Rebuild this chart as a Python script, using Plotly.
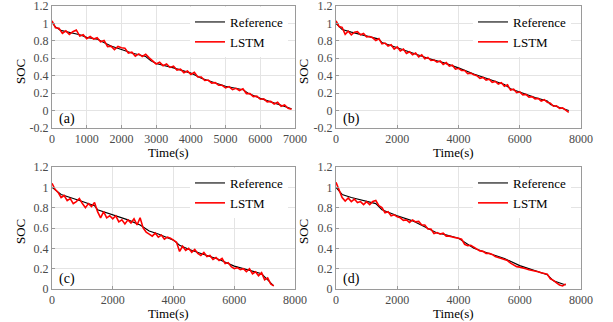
import plotly.graph_objects as go

# ---------------- data ----------------
STEP = 100  # sampling interval of the LSTM estimates (s)

# (a)
ref_a_t = [0, 100, 250, 500, 800, 1000, 1300, 1450, 1700, 2000, 2300, 2700, 2850, 3000, 3500,
           4000, 4150, 4300, 4600, 5000, 5500, 5650, 6000, 6500, 6900]
ref_a_v = [1.01, 0.96, 0.92, 0.90, 0.87, 0.84, 0.82, 0.79, 0.74, 0.70, 0.66, 0.62, 0.57, 0.54, 0.49,
           0.43, 0.40, 0.37, 0.33, 0.28, 0.24, 0.20, 0.14, 0.075, 0.02]
lstm_a = [1.03, 0.95, 0.945, 0.885, 0.915, 0.875, 0.905, 0.925, 0.855, 0.87, 0.825, 0.85, 0.82, 0.835,
          0.79, 0.805, 0.735, 0.74, 0.70, 0.735, 0.72, 0.715, 0.66, 0.67, 0.625, 0.65, 0.62,
          0.645, 0.605, 0.575, 0.535, 0.555, 0.515, 0.535, 0.495, 0.51, 0.465, 0.475, 0.435, 0.455, 0.415,
          0.44, 0.385, 0.385, 0.345, 0.35, 0.315, 0.32, 0.29, 0.29, 0.26, 0.275, 0.24, 0.255,
          0.23, 0.25, 0.195, 0.195, 0.16, 0.165, 0.13, 0.135, 0.10, 0.105, 0.075, 0.095, 0.05,
          0.065, 0.025, 0.015]

# (b)
ref_b_t = [0, 200, 500, 1000, 1400, 1500, 2000, 2500, 3000, 3500, 4000, 4500, 5000, 5500, 5700,
           6000, 6500, 6900, 7000, 7600]
ref_b_v = [1.0, 0.93, 0.90, 0.86, 0.82, 0.78, 0.72, 0.66, 0.60, 0.55, 0.49, 0.42, 0.36, 0.30, 0.25,
           0.21, 0.15, 0.11, 0.07, 0.0]
lstm_b = [1.03, 0.965, 0.955, 0.875, 0.91, 0.87, 0.90, 0.905, 0.87, 0.885, 0.845, 0.85, 0.835, 0.805,
          0.825, 0.765, 0.775, 0.74, 0.755, 0.705, 0.73, 0.685, 0.705, 0.655, 0.675, 0.64, 0.66, 0.615,
          0.64, 0.595, 0.61, 0.575, 0.58, 0.555, 0.57, 0.53, 0.55, 0.51, 0.52, 0.475, 0.485,
          0.46, 0.46, 0.425, 0.43, 0.41, 0.40, 0.37, 0.38, 0.35, 0.36, 0.325, 0.335, 0.305,
          0.32, 0.28, 0.295, 0.235, 0.245, 0.205, 0.215, 0.18, 0.185, 0.155, 0.16, 0.135, 0.14, 0.11,
          0.125, 0.095, 0.085, 0.05, 0.055, 0.025, 0.03, 0.0, -0.02]

# (c)
ref_c_t = [0, 300, 1000, 1400, 1500, 2000, 2500, 2900, 3200, 3500, 4000, 4200, 4500, 5000, 5500,
           6000, 6500, 6900, 7100, 7300]
ref_c_v = [1.0, 0.93, 0.86, 0.82, 0.78, 0.73, 0.68, 0.63, 0.57, 0.54, 0.48, 0.43, 0.39, 0.34, 0.29,
           0.225, 0.18, 0.15, 0.09, 0.03]
lstm_c = [1.04, 0.98, 0.95, 0.90, 0.92, 0.87, 0.89, 0.84, 0.86, 0.89, 0.84, 0.80, 0.84, 0.81, 0.85,
          0.76, 0.70, 0.76, 0.70, 0.72, 0.69, 0.72, 0.66, 0.68, 0.64, 0.68, 0.65, 0.69, 0.63, 0.70,
          0.60, 0.56, 0.54, 0.52, 0.55, 0.51, 0.53, 0.49, 0.51, 0.50, 0.48, 0.46, 0.37, 0.42, 0.38,
          0.40, 0.36, 0.39, 0.35, 0.33, 0.36, 0.32, 0.33, 0.29, 0.31, 0.28, 0.30, 0.25, 0.26, 0.22,
          0.20, 0.21, 0.19, 0.20, 0.17, 0.20, 0.15, 0.17, 0.13, 0.16, 0.09, 0.11, 0.05, 0.03]

# (d)
ref_d_t = [0, 200, 500, 1000, 1300, 1500, 2000, 2500, 3000, 3300, 3500, 4000, 4200, 4500, 5000,
           5500, 6000, 6500, 6900, 7100, 7500]
ref_d_v = [1.0, 0.93, 0.90, 0.86, 0.84, 0.78, 0.72, 0.67, 0.60, 0.55, 0.54, 0.50, 0.46, 0.40, 0.35,
           0.30, 0.23, 0.18, 0.14, 0.08, 0.04]
lstm_d = [1.05, 0.97, 0.90, 0.865, 0.895, 0.86, 0.885, 0.85, 0.86, 0.83, 0.86, 0.83, 0.86, 0.87,
          0.82, 0.80, 0.75, 0.76, 0.72, 0.73, 0.71, 0.70, 0.675, 0.68, 0.655, 0.68, 0.66,
          0.665, 0.63, 0.63, 0.59, 0.59, 0.545, 0.555, 0.54, 0.55, 0.52, 0.52, 0.51, 0.505,
          0.50, 0.49, 0.44, 0.425, 0.43, 0.41, 0.39, 0.375, 0.37, 0.35, 0.35, 0.34, 0.32,
          0.31, 0.30, 0.29, 0.28, 0.255, 0.24, 0.22, 0.215, 0.21, 0.20, 0.19, 0.185, 0.175,
          0.17, 0.16, 0.155, 0.145, 0.10, 0.085, 0.06, 0.04, 0.03, 0.05]

panels = [
    ("(a)", ref_a_t, ref_a_v, lstm_a, 7000, 1000, -0.2),
    ("(b)", ref_b_t, ref_b_v, lstm_b, 8000, 2000, -0.2),
    ("(c)", ref_c_t, ref_c_v, lstm_c, 8000, 2000, 0.0),
    ("(d)", ref_d_t, ref_d_v, lstm_d, 8000, 2000, 0.0),
]
y_ticks_full = [-0.2, 0, 0.2, 0.4, 0.6, 0.8, 1.0, 1.2]
y_text_full = ["-0.2", "0", "0.2", "0.4", "0.6", "0.8", "1", "1.2"]

# ---------------- layout geometry ----------------
W, H = 613, 322
def px_x(p): return p / W
def px_y(p): return 1 - p / H

xdom = [[px_x(52), px_x(295)], [px_x(336), px_x(581)]]
ydom = [[px_y(128), px_y(6)], [px_y(289), px_y(167)]]

FONT = "Liberation Serif"
TICKCOL = "#4a4a4a"
LINECOL = "#9a9a9a"
GRIDCOL = "#e4e4e4"

fig = go.Figure()
layout = dict(width=W, height=H, margin=dict(l=0, r=0, t=0, b=0, autoexpand=False),
              paper_bgcolor="white", plot_bgcolor="white",
              font=dict(family=FONT, size=11, color="black"), annotations=[])

def note(text, x, y, size, angle=0):
    return dict(text=text, xref="paper", yref="paper", x=px_x(x), y=px_y(y),
                xanchor="center", yanchor="middle", textangle=angle, showarrow=False,
                font=dict(family=FONT, size=size, color="black"))

for i, (lab, rt, rv, lv, xmax, xstep, ymin) in enumerate(panels):
    row, col = divmod(i, 2)
    k = "" if i == 0 else str(i + 1)
    lt = [j * STEP for j in range(len(lv))]
    leg = "legend" if i == 0 else f"legend{i + 1}"
    fig.add_trace(go.Scatter(x=rt, y=rv, mode="lines", name="Reference",
                             line=dict(color="black", width=1.1),
                             xaxis="x" + k, yaxis="y" + k, legend=leg))
    fig.add_trace(go.Scatter(x=lt, y=lv, mode="lines", name="LSTM",
                             line=dict(color="#ff0000", width=1.6),
                             xaxis="x" + k, yaxis="y" + k, legend=leg))
    xt = list(range(0, xmax + 1, xstep))
    yt = [v for v in y_ticks_full if v >= ymin - 1e-9]
    ytx = y_text_full[len(y_ticks_full) - len(yt):]
    axcommon = dict(showline=True, linecolor=LINECOL, linewidth=1, mirror=True,
                    showgrid=True, gridcolor=GRIDCOL, gridwidth=1, zeroline=False,
                    ticks="inside", ticklen=3, tickcolor=LINECOL, automargin=False,
                    ticklabeloverflow="allow",
                    tickfont=dict(family=FONT, size=12, color=TICKCOL))
    layout["xaxis" + k] = dict(domain=xdom[col], anchor="y" + k, range=[0, xmax],
                               tickvals=xt, ticktext=[str(v) for v in xt], **axcommon)
    layout["yaxis" + k] = dict(domain=ydom[row], anchor="x" + k, range=[ymin, 1.2],
                               tickvals=yt, ticktext=ytx, **axcommon)
    # legend
    lx = [190, 473][col]
    ly = [7, 168][row]
    layout[leg] = dict(x=px_x(lx), y=px_y(ly), xanchor="left", yanchor="top",
                       bgcolor="white", borderwidth=0, tracegroupgap=0,
                       font=dict(family=FONT, size=13, color="black"))
    # annotations: panel label and axis titles
    layout["annotations"].append(note(lab, [67, 351][col], [119, 279][row], 14))
    layout["annotations"].append(note("Time(s)", [168, 453][col], [153, 313][row], 13))
    layout["annotations"].append(note("SOC", [20, 303][col], [72, 232][row], 13, -90))

fig.update_layout(**layout)
# the page's default 8px body margin would shift the fixed-size figure; remove it
fig.write_html("out.html", config={"displayModeBar": False},
               post_script="document.body.style.margin='0px';")
